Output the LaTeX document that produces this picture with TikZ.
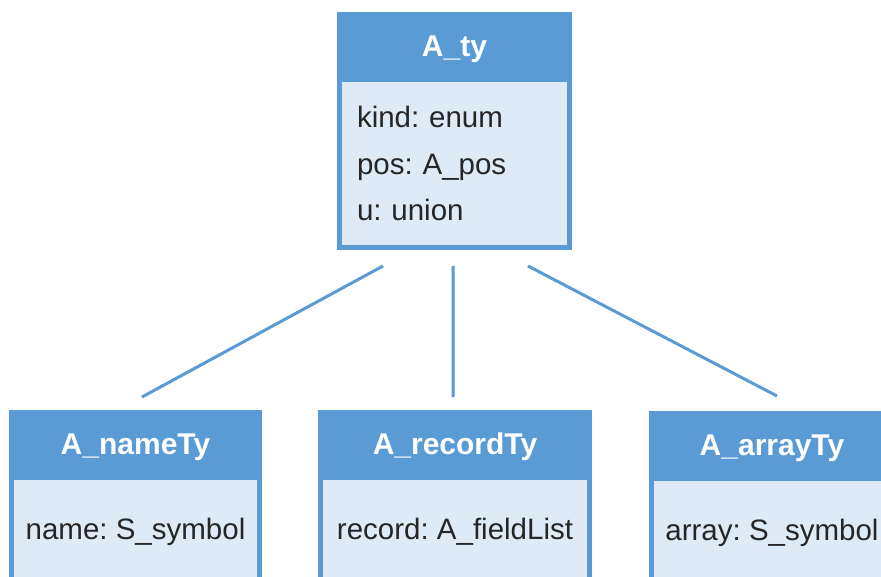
\documentclass[tikz,border=0pt]{standalone}
\usepackage{fontspec}
\setmainfont{Liberation Sans}
\usepackage{tikz}
\frenchspacing

\definecolor{hdblue}{HTML}{5B9BD5}
\definecolor{bdblue}{HTML}{DEEAF6}
\definecolor{txtgray}{HTML}{262626}

\tikzset{
  head/.style={fill=hdblue,text=white,inner sep=0,outer sep=0,
    text height=21.6pt,text depth=0pt,
    font=\fontsize{30}{36}\selectfont\bfseries},
  body/.style={fill=bdblue,draw=hdblue,line width=5pt,inner sep=0,outer sep=0,
    text=txtgray,font=\fontsize{29.5}{46.5}\selectfont},
  link/.style={draw=hdblue,line width=3pt}
}

\begin{document}
\begin{tikzpicture}[x=1pt,y=-1pt]
        \useasboundingbox[fill=white] (0,0) rectangle (881,577);
        \clip (0,0) rectangle (881,577);
        % parent struct
        \node[head,minimum width=235,minimum height=68] (ty) at (454.5,46) {A\_ty};
        \node[body,anchor=north,minimum width=230,minimum height=167.5,
              text width=195,align=left] (tyb) at (ty.south) {kind: enum\\pos: A\_pos\\u: union};
        % the three variants
        \node[head,minimum width=253,minimum height=67] (nm) at (135.5,443.5) {A\_nameTy};
        \node[body,anchor=north,minimum width=248,minimum height=110] (nmb) at (nm.south) {name: S\_symbol};
        \node[head,minimum width=274,minimum height=67] (rc) at (455,443.5) {A\_recordTy};
        \node[body,anchor=north,minimum width=269,minimum height=110] (rcb) at (rc.south) {record: A\_fieldList};
        \node[head,minimum width=246,minimum height=67] (ar) at (772,444.5) {A\_arrayTy};
        \node[body,anchor=north,minimum width=241,minimum height=110] (arb) at (ar.south) {array: S\_symbol};
        % connector ends
        \coordinate (o1) at (383,266);
        \coordinate (o2) at (453,266);
        \coordinate (o3) at (528,266);
        \coordinate (i1) at (142,397);
        \coordinate (i2) at (453,397);
        \coordinate (i3) at (777,396);
        \draw[link] (o1) -- (i1) (o2) -- (i2) (o3) -- (i3);
      \end{tikzpicture}
\end{document}
